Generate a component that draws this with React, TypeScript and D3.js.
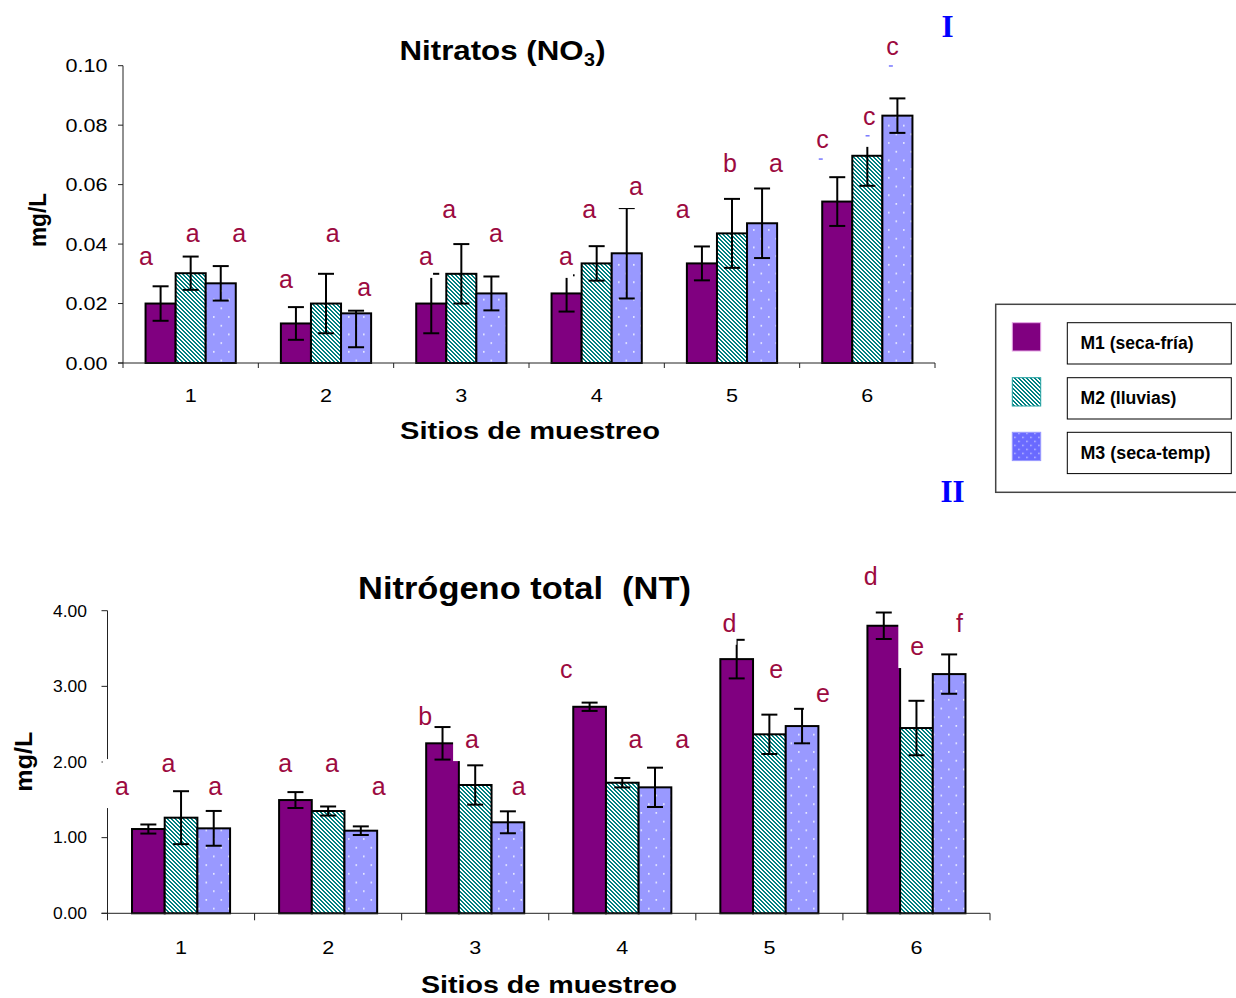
import React from "react";
import * as d3 from "d3";

// Sampling sites and seasons
const SITES = ["1", "2", "3", "4", "5", "6"];
const SEASONS = ["M1 (seca-fría)", "M2 (lluvias)", "M3 (seca-temp)"];

// Panel I: nitrates (mg/L)
const NO3_M1 = [0.02, 0.0133, 0.02, 0.0234, 0.0335, 0.0543];
const NO3_M2 = [0.0302, 0.02, 0.03, 0.0335, 0.0436, 0.0697];
const NO3_M3 = [0.0268, 0.0167, 0.0234, 0.0369, 0.047, 0.0832];
const NO3_M1_ERR_UP = [0.0058, 0.0055, 0.01, 0.0061, 0.0057, 0.0082];
const NO3_M2_ERR_UP = [0.0056, 0.01, 0.01, 0.0058, 0.0116, 0.0101];
const NO3_M3_ERR_UP = [0.0058, 0.0009, 0.0057, 0.0152, 0.0117, 0.0058];
const NO3_M1_ERR_DN = [0.0058, 0.0055, 0.01, 0.0061, 0.0057, 0.0082];
const NO3_M2_ERR_DN = [0.0056, 0.01, 0.01, 0.0058, 0.0116, 0.0101];
const NO3_M3_ERR_DN = [0.0058, 0.0114, 0.0057, 0.0152, 0.0117, 0.0058];
const NO3_TICKS = [0, 0.02, 0.04, 0.06, 0.08, 0.1];
const NO3_M1_LETTERS = ["a", "a", "a", "a", "a", "c"];
const NO3_M2_LETTERS = ["a", "a", "a", "a", "b", "c"];
const NO3_M3_LETTERS = ["a", "a", "a", "a", "a", "c"];
// letter anchors in data space: [site position, value at baseline]
const NO3_M1_LETTER_AT = [[0.626, 0.033], [1.66, 0.0252], [2.695, 0.033], [3.729, 0.033], [4.591, 0.0488], [5.63, 0.0723]];
const NO3_M2_LETTER_AT = [[0.971, 0.0408], [2.005, 0.0408], [2.867, 0.0488], [3.901, 0.0488], [4.941, 0.0643], [5.976, 0.0801]];
const NO3_M3_LETTER_AT = [[1.315, 0.0408], [2.239, 0.0225], [3.212, 0.0408], [4.246, 0.0565], [5.281, 0.0643], [6.148, 0.1036]];
const NO3_MARKED_SITE = "6";

// Panel II: total nitrogen (mg/L)
const NT_M1 = [1.114, 1.497, 2.247, 2.73, 3.36, 3.801];
const NT_M2 = [1.264, 1.352, 1.696, 1.726, 2.366, 2.449];
const NT_M3 = [1.123, 1.092, 1.203, 1.665, 2.475, 3.162];
const NT_M1_ERR = [0.06, 0.105, 0.215, 0.055, 0.255, 0.175];
const NT_M2_ERR = [0.35, 0.06, 0.26, 0.062, 0.26, 0.36];
const NT_M3_ERR = [0.23, 0.057, 0.145, 0.26, 0.228, 0.26];
const NT_TICKS = [0, 1, 2, 3, 4];
const NT_M1_LETTERS = ["a", "a", "b", "c", "d", "d"];
const NT_M2_LETTERS = ["a", "a", "a", "a", "e", "e"];
const NT_M3_LETTERS = ["a", "a", "a", "a", "e", "f"];
const NT_M1_LETTER_AT = [[0.557, 1.563], [1.668, 1.871], [2.62, 2.488], [3.584, 3.11], [4.688, 3.721], [5.648, 4.339]];
const NT_M2_LETTER_AT = [[0.874, 1.871], [1.986, 1.871], [2.938, 2.184], [4.049, 2.184], [5.006, 3.11], [5.965, 3.414]];
const NT_M3_LETTER_AT = [[1.192, 1.563], [2.303, 1.563], [3.255, 1.563], [4.367, 2.184], [5.323, 2.796], [6.276, 3.721]];

const SANS = "'Liberation Sans', Arial, Helvetica, sans-serif";
const SERIF = "'Liberation Serif', 'Times New Roman', serif";
const LETTER_COLOR = "#9c0a40";
const FILLS = ["#800080", "url(#diagTeal)", "url(#dotsBlue)"];

type Panel = {
  left: number;
  right: number;
  top: number;
  bottom: number;
  max: number;
  ticks: number[];
  values: number[][];
  errUp: number[][];
  errDn: number[][];
  letters: string[][];
  letterAt: number[][][];
  markedSite?: string;
  tickFont: number;
  tickLen: number;
  tickTextW: number;
  tickTextRight: number;
  tickTextDy: number;
  catBaseline: number;
  catTickLen: number;
};

const NO3_PANEL: Panel = {
  left: 123,
  right: 935,
  top: 65.7,
  bottom: 363,
  max: 0.1,
  ticks: NO3_TICKS,
  values: [NO3_M1, NO3_M2, NO3_M3],
  errUp: [NO3_M1_ERR_UP, NO3_M2_ERR_UP, NO3_M3_ERR_UP],
  errDn: [NO3_M1_ERR_DN, NO3_M2_ERR_DN, NO3_M3_ERR_DN],
  letters: [NO3_M1_LETTERS, NO3_M2_LETTERS, NO3_M3_LETTERS],
  letterAt: [NO3_M1_LETTER_AT, NO3_M2_LETTER_AT, NO3_M3_LETTER_AT],
  markedSite: NO3_MARKED_SITE,
  tickFont: 18.5,
  tickLen: 5,
  tickTextW: 42,
  tickTextRight: 107.5,
  tickTextDy: 6.6,
  catBaseline: 401.5,
  catTickLen: 5,
};

const NT_PANEL: Panel = {
  left: 107.5,
  right: 990,
  top: 610.7,
  bottom: 913.3,
  max: 4,
  ticks: NT_TICKS,
  values: [NT_M1, NT_M2, NT_M3],
  errUp: [NT_M1_ERR, NT_M2_ERR, NT_M3_ERR],
  errDn: [NT_M1_ERR, NT_M2_ERR, NT_M3_ERR],
  letters: [NT_M1_LETTERS, NT_M2_LETTERS, NT_M3_LETTERS],
  letterAt: [NT_M1_LETTER_AT, NT_M2_LETTER_AT, NT_M3_LETTER_AT],
  tickFont: 16.3,
  tickLen: 6,
  tickTextW: 34,
  tickTextRight: 87,
  tickTextDy: 5.8,
  catBaseline: 953.5,
  catTickLen: 7,
};

const fmt = d3.format(".2f");

function BarPanel({ p }: { p: Panel }) {
  const x = d3.scaleBand<string>().domain(SITES).range([p.left, p.right]).padding(0);
  const bw = x.bandwidth() / 4.5;
  const xs = d3
    .scaleBand<number>()
    .domain([0, 1, 2])
    .range([0.75 * bw, 3.75 * bw])
    .padding(0);
  const y = d3.scaleLinear().domain([0, p.max]).range([p.bottom, p.top]);
  const xc = d3.scaleLinear().domain([0.5, SITES.length + 0.5]).range([p.left, p.right]);
  const letterSize = 25;

  const bars: React.ReactNode[] = [];
  const errs: React.ReactNode[] = [];
  p.values.forEach((vals, s) => {
    vals.forEach((v, i) => {
      const bx = (x(SITES[i]) as number) + (xs(s) as number);
      const w = xs.bandwidth();
      bars.push(
        <rect
          key={`b${s}-${i}`}
          x={bx}
          y={y(v)}
          width={w}
          height={y(0) - y(v)}
          fill={FILLS[s]}
          stroke="#000"
          strokeWidth={2}
        />
      );
      const cx = bx + w / 2;
      const hi = y(v + p.errUp[s][i]);
      const lo = y(v - p.errDn[s][i]);
      errs.push(
        <g key={`e${s}-${i}`} stroke="#000" strokeWidth={2}>
          <line x1={cx} x2={cx} y1={hi} y2={lo} />
          <line x1={cx - 8} x2={cx + 8} y1={hi} y2={hi} />
          <line x1={cx - 8} x2={cx + 8} y1={lo} y2={lo} />
        </g>
      );
    });
  });

  // each significance letter sits in an opaque text box that hides what lies beneath
  const boxes: React.ReactNode[] = [];
  const letters: React.ReactNode[] = [];
  p.letters.forEach((row, s) => {
    row.forEach((t, i) => {
      const [c, v] = p.letterAt[s][i];
      const gx = xc(c);
      const by = y(v);
      const marked = p.markedSite === SITES[i];
      boxes.push(
        <rect
          key={`k${s}-${i}`}
          x={gx - 13}
          y={by - 36}
          width={26}
          height={36 + 13 + (marked ? 9 : 0)}
          fill="#fff"
        />
      );
      letters.push(
        <g key={`t${s}-${i}`}>
          <text x={gx - 1} y={by} fontSize={letterSize} fill={LETTER_COLOR} fontFamily={SANS}>
            {t}
          </text>
          {marked && (
            <line x1={gx + 1.5} x2={gx + 5.5} y1={by + 11} y2={by + 11} stroke="#3333ff" strokeWidth={1} />
          )}
        </g>
      );
    });
  });

  const bounds = [...SITES.map((d) => x(d) as number), p.right];

  return (
    <g>
      {bars}
      {errs}
      {/* value axis */}
      <line x1={p.left} x2={p.left} y1={p.top} y2={p.bottom} stroke="#222" strokeWidth={1} />
      {p.ticks.map((t) => (
        <g key={`yt${t}`}>
          <line x1={p.left - p.tickLen} x2={p.left} y1={y(t)} y2={y(t)} stroke="#222" strokeWidth={1} />
          <text
            x={p.tickTextRight}
            y={y(t) + p.tickTextDy}
            textAnchor="end"
            fontSize={p.tickFont}
            fontFamily={SANS}
            textLength={p.tickTextW}
            lengthAdjust="spacingAndGlyphs"
          >
            {fmt(t)}
          </text>
        </g>
      ))}
      {/* site axis */}
      <line x1={p.left - p.tickLen} x2={p.right} y1={p.bottom} y2={p.bottom} stroke="#222" strokeWidth={1} />
      {bounds.map((bx, k) => (
        <line key={`xt${k}`} x1={bx} x2={bx} y1={p.bottom} y2={p.bottom + p.catTickLen} stroke="#222" strokeWidth={1} />
      ))}
      {SITES.map((d) => (
        <text
          key={`xl${d}`}
          x={(x(d) as number) + x.bandwidth() / 2}
          y={p.catBaseline}
          textAnchor="middle"
          fontSize={19}
          fontFamily={SANS}
          textLength={12}
          lengthAdjust="spacingAndGlyphs"
        >
          {d}
        </text>
      ))}
      {boxes}
      {letters}
    </g>
  );
}

function Legend() {
  const rows = [322.7, 377.7, 432.3];
  const swFill = ["#800080", "url(#diagTeal)", "url(#dotsBlueLegend)"];
  const swStroke = ["#e6a6e6", "#20a0a0", "#9a9aff"];
  const widths = [113, 96, 130];
  return (
    <g fontFamily={SANS}>
      <rect x={995.7} y={304.3} width={260} height={188} fill="#fff" stroke="#444" strokeWidth={1.5} />
      {SEASONS.map((name, i) => (
        <g key={name}>
          <rect x={1012.3} y={rows[i]} width={28.4} height={28.3} fill={swFill[i]} stroke={swStroke[i]} strokeWidth={1} />
          <rect x={1067.3} y={rows[i]} width={164} height={41.3} fill="#fff" stroke="#000" strokeWidth={1} />
          <text
            x={1080.5}
            y={rows[i] + 26.2}
            fontSize={17.5}
            fontWeight="bold"
            textLength={widths[i]}
            lengthAdjust="spacingAndGlyphs"
          >
            {name}
          </text>
        </g>
      ))}
    </g>
  );
}

export default function App() {
  return (
    <svg
      width={1236}
      height={998}
      viewBox="0 0 1236 998"
      style={{ position: "absolute", left: 0, top: 0, background: "#fff" }}
    >
      <defs>
        <pattern id="diagTeal" width={4} height={4} patternUnits="userSpaceOnUse">
          <rect width={4} height={4} fill="#fff" />
          {[0, 1, 2, 3].map((r) =>
            [0, 1].map((k) => (
              <rect key={`${r}-${k}`} x={(r + k) % 4} y={r} width={1} height={1} fill="#008080" />
            ))
          )}
        </pattern>
        <pattern id="dotsBlue" width={15} height={17.4} patternUnits="userSpaceOnUse">
          <rect width={15} height={17.4} fill="#9999ff" />
          <rect x={3} y={3} width={1.6} height={1.6} fill="#eef0ff" />
          <rect x={10.5} y={11.7} width={1.6} height={1.6} fill="#eef0ff" />
        </pattern>
        <pattern id="dotsBlueLegend" width={8} height={8} patternUnits="userSpaceOnUse" x={1012.3} y={322.7}>
          <rect width={8} height={8} fill="#6a6aff" />
          <rect x={2} y={2} width={1.3} height={1.3} fill="#dcdcff" />
          <rect x={6} y={6} width={1.3} height={1.3} fill="#dcdcff" />
        </pattern>
      </defs>
      <rect width={1236} height={998} fill="#fff" />

      {/* Panel I */}
      <g fontFamily={SANS} fontWeight="bold">
        <text x={399.5} y={60} fontSize={28.5} textLength={184} lengthAdjust="spacingAndGlyphs">
          Nitratos (NO
        </text>
        <text x={584} y={65.5} fontSize={18} textLength={11} lengthAdjust="spacingAndGlyphs">
          3
        </text>
        <text x={595.5} y={60} fontSize={28.5} textLength={10} lengthAdjust="spacingAndGlyphs">
          )
        </text>
        <text x={530} y={438.5} fontSize={23} textAnchor="middle" textLength={260} lengthAdjust="spacingAndGlyphs">
          Sitios de muestreo
        </text>
        <text
          transform="translate(46,220) rotate(-90)"
          textAnchor="middle"
          fontSize={23}
          textLength={54}
          lengthAdjust="spacingAndGlyphs"
        >
          mg/L
        </text>
      </g>
      <BarPanel p={NO3_PANEL} />
      <text x={947.5} y={36.5} fontSize={31} fontWeight="bold" fontFamily={SERIF} fill="#0000ff" textAnchor="middle">
        I
      </text>

      <Legend />

      {/* Panel II */}
      <text x={952.5} y={501.5} fontSize={31} fontWeight="bold" fontFamily={SERIF} fill="#0000ff" textAnchor="middle">
        II
      </text>
      <g fontFamily={SANS} fontWeight="bold">
        <text
          x={358}
          y={598.5}
          fontSize={31}
          textLength={333}
          lengthAdjust="spacingAndGlyphs"
          style={{ whiteSpace: "pre" }}
        >
          {"Nitrógeno total  (NT)"}
        </text>
        <text x={549} y={993} fontSize={23} textAnchor="middle" textLength={256} lengthAdjust="spacingAndGlyphs">
          Sitios de muestreo
        </text>
        <text
          transform="translate(32,761.7) rotate(-90)"
          textAnchor="middle"
          fontSize={23}
          textLength={60}
          lengthAdjust="spacingAndGlyphs"
        >
          mg/L
        </text>
      </g>
      <BarPanel p={NT_PANEL} />
    </svg>
  );
}
